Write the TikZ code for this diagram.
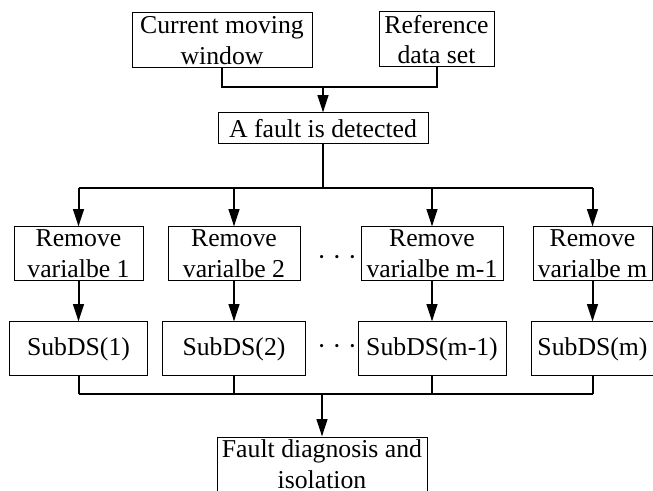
\documentclass[tikz,border=0pt]{standalone}
\usepackage{fontspec}
\setmainfont{Liberation Serif}
\usetikzlibrary{arrows.meta, positioning}

\begin{document}
\begin{tikzpicture}[
    x=0.75pt, y=-0.75pt,
    node distance=30pt,
    block/.style={rectangle, draw, line width=0.75pt, inner sep=0pt, minimum width=#1, minimum height=40.5pt, align=center, font=\fontsize{19.3}{23}\selectfont},
    block/.default=100pt,
    dotsrow/.style={inner sep=0pt, font=\fontsize{10}{12}\selectfont},
    arrow/.style={-{Triangle[length=13pt, width=8pt]}, line width=1.5pt},
    link/.style={line width=1.5pt},
]
    \clip (0,0) rectangle (653,491);

    % Inputs
    \node[block=135pt, minimum height=41.25pt] (window) at (222,40.5) {Current moving\\window};
    \node[block=86.25pt, minimum height=41.25pt] (refset) at (436.5,39.5) {Reference\\data set};

    % Detection
    \node[block=157.5pt, minimum height=23.25pt] (fault) at (323,128.5) {A fault is detected};

    % Remove one variable at a time
    \node[block=96.75pt] (rem1) at (78.5,254) {Remove\\varialbe 1};
    \node[block=99pt] (rem2) at (234,254) {Remove\\varialbe 2};
    \node[block=106.5pt] (rem3) at (432,254) {Remove\\varialbe m-1};
    \node[block=89.25pt] (rem4) at (592.5,254) {Remove\\varialbe m};

    % Sub data sets
    \node[block=103.5pt, below=of rem1] (sub1) {SubDS(1)};
    \node[block=107.25pt, below=of rem2] (sub2) {SubDS(2)};
    \node[block=111pt, below=of rem3] (sub3) {SubDS(m-1)};
    \node[block=91.5pt, below=of rem4] (sub4) {SubDS(m)};

    \node[dotsrow] (dots1) at (337,259) {•\hspace{8pt}•\hspace{8pt}•};
    \node[dotsrow] (dots2) at (337,347) {•\hspace{8pt}•\hspace{8pt}•};

    % Result
    \node[block=157.5pt, minimum height=41.25pt] (diag) at (322,464.5) {Fault diagnosis and\\isolation};

    % Connectors
    \coordinate (join) at (323,87);
    \coordinate (split) at (323,188);
    \coordinate (merge) at (322,394);

    \draw[link] (window.south) |- (join) -| (refset.south);
    \draw[arrow] (join) -- (fault.north);

    \draw[link] (fault.south) -- (split);
    \draw[link] (rem1.north |- split) -- (rem4.north |- split);
    \foreach \i in {1,...,4} {
        \draw[arrow] (rem\i.north |- split) -- (rem\i.north);
        \draw[arrow] (rem\i.south) -- (rem\i.south |- sub\i.north);
        \draw[link] (sub\i.south) -- (sub\i.south |- merge);
    }
    \draw[link] (sub1.south |- merge) -- (sub4.south |- merge);
    \draw[arrow] (merge) -- (diag.north);

\end{tikzpicture}
\end{document}
